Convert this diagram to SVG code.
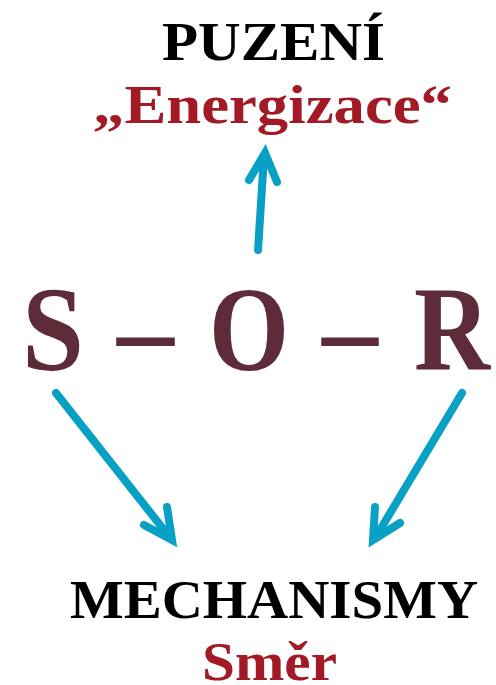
<svg xmlns="http://www.w3.org/2000/svg" width="496" height="685" viewBox="0 0 496 685">
<style>
.t{font-family:"Liberation Serif","DejaVu Serif",serif;font-weight:bold}
.blk{fill:#000}
.red{fill:#A21A26}
.sor{fill:#5E2C38;font-size:120px}
.ar{fill:none;stroke:#08A0C4;stroke-width:8;stroke-linecap:round;stroke-linejoin:miter}
</style>
<rect width="496" height="685" fill="#fff"/>
<g id="puzeni">
<text class="t blk" x="162" y="60" font-size="54" textLength="223" lengthAdjust="spacingAndGlyphs">PUZENÍ</text>
<text class="t red" x="93" y="123" font-size="54" textLength="359" lengthAdjust="spacingAndGlyphs">„Energizace“</text>
</g>
<g id="sor">
<text class="t sor" x="22" y="370" textLength="62" lengthAdjust="spacingAndGlyphs">S</text>
<text class="t sor" x="117" y="370" textLength="57" lengthAdjust="spacingAndGlyphs">–</text>
<text class="t sor" x="209" y="370" textLength="80" lengthAdjust="spacingAndGlyphs">O</text>
<text class="t sor" x="322" y="370" textLength="56" lengthAdjust="spacingAndGlyphs">–</text>
<text class="t sor" x="414" y="370" textLength="76" lengthAdjust="spacingAndGlyphs">R</text>
</g>
<g id="mechanismy">
<text class="t blk" x="70" y="618" font-size="54" textLength="408" lengthAdjust="spacingAndGlyphs">MECHANISMY</text>
<text class="t red" x="202" y="680" font-size="54" textLength="135" lengthAdjust="spacingAndGlyphs">Směr</text>
</g>
<g id="connectors">
<path class="ar" d="M258 250 L264 156"/>
<path class="ar" d="M249 180 L265 153 L277 182"/>
<path class="ar" d="M56 393 L168 535"/>
<path class="ar" d="M144 525 L172 540 L167 507"/>
<path class="ar" d="M462 393 L377 535"/>
<path class="ar" d="M375 507 L373 540 L400 523"/>
</g>
</svg>
